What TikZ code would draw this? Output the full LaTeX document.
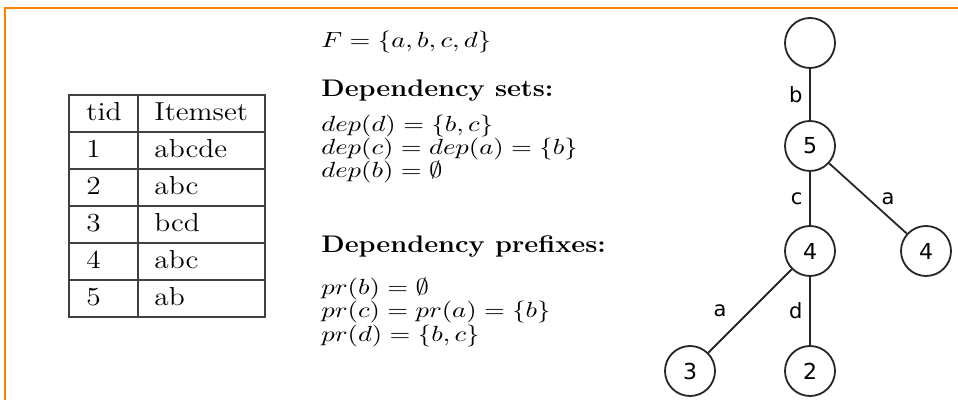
\RequirePackage{fix-cm}
\documentclass[tikz,border=0pt]{standalone}
\usepackage{fontspec}
\newfontfamily\treefont{DejaVu Sans}
\definecolor{frameorange}{RGB}{255,128,0}
% the text in the reference is set a little wide
\newcommand{\wide}[2][1.13]{\scalebox{#1}[1]{#2}}

\begin{document}
\begin{tikzpicture}[
    x=0.5pt, y=0.5pt,
    every node/.style={font=\fontsize{12}{14}\selectfont},
    cell/.style={anchor=base west, inner sep=0pt, font=\fontsize{13}{15}\selectfont},
    mathline/.style={anchor=base west, inner sep=0pt, font=\fontsize{10.95}{13}\selectfont},
    heading/.style={anchor=base west, inner sep=0pt,
        font=\fontsize{12}{14}\selectfont\bfseries},
    rule/.style={draw=black!75, line width=0.6pt},
    state/.style={circle, draw=black!85, line width=0.9pt, minimum size=25pt,
        inner sep=0pt, font=\fontsize{11}{13}\selectfont\treefont},
    edgelabel/.style={font=\fontsize{10.5}{12}\selectfont\treefont},
    tree edge/.style={draw=black!85, line width=0.9pt},
]
\useasboundingbox (0,0) rectangle (958,400);

% frame
\draw[frameorange, line width=0.8pt] (5,0) -- (5,392) -- (958,392);

% transaction table
\draw[rule] (69,83) rectangle (265,305);
\foreach \y in {120,157,194,231,268}
    \draw[rule] (69,\y) -- (265,\y);
\draw[rule] (138,83) -- (138,305);
\node[cell] (tidhead) at (86,279) {\wide{tid}};
\node[cell] (sethead) at (154,279) {\wide{Itemset}};
\foreach \tid/\items [count=\i] in {1/abcde, 2/abc, 3/bcd, 4/abc, 5/ab} {
    \node[cell] (tid\i) at (86,279-37*\i) {\wide{\tid}};
    \node[cell] (set\i) at (154,279-37*\i) {\wide{\items}};
}

% dependency sets and prefixes
\node[mathline] (fset) at (321,352) {\wide[1.22]{$F = \{a, b, c, d\}$}};
\node[heading] (dephead) at (321,303) {\wide{Dependency sets:}};
\node[mathline] (depd) at (321,268) {\wide[1.22]{$dep(d) = \{b, c\}$}};
\node[mathline] (depc) at (321,245) {\wide[1.22]{$dep(c) = dep(a) = \{b\}$}};
\node[mathline] (depb) at (321,222) {\wide[1.22]{$dep(b) = \emptyset$}};
\node[heading] (prhead) at (321,147) {\wide{Dependency prefixes:}};
\node[mathline] (prb) at (321,105) {\wide[1.22]{$pr(b) = \emptyset$}};
\node[mathline] (prc) at (321,82) {\wide[1.22]{$pr(c) = pr(a) = \{b\}$}};
\node[mathline] (prd) at (321,58) {\wide[1.22]{$pr(d) = \{b, c\}$}};

% prefix tree
\node[state] (root) at (810,357) {};
\node[state] (n5) at (810,254) {5};
\node[state] (n4a) at (810,149) {4};
\node[state] (n4b) at (926,149) {4};
\node[state] (n3) at (690,29) {3};
\node[state] (n2) at (810,29) {2};

\draw[tree edge] (root) -- node[edgelabel, left] {b} (n5);
\draw[tree edge] (n5) -- node[edgelabel, left] {c} (n4a);
\draw[tree edge] (n5) -- node[edgelabel, right=3pt] {a} (n4b);
\draw[tree edge] (n4a) -- node[edgelabel, left=8pt] {a} (n3);
\draw[tree edge] (n4a) -- node[edgelabel, left] {d} (n2);
\end{tikzpicture}
\end{document}
